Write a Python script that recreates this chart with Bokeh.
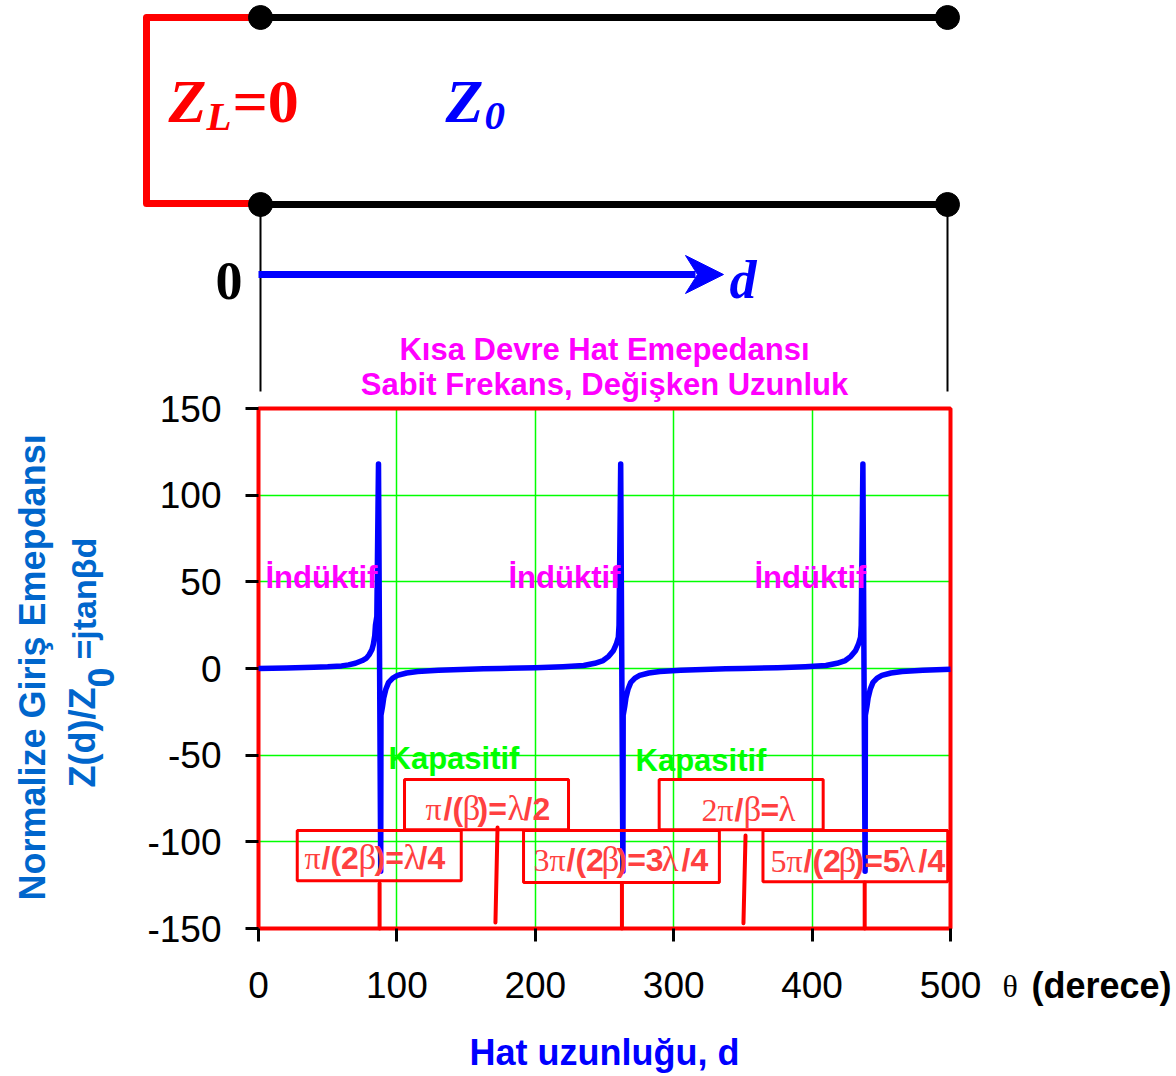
from bokeh.plotting import figure
from bokeh.models import Label, Range1d, FixedTicker, LinearAxis, Grid
from bokeh.embed import file_html
from bokeh.resources import INLINE

# ---- chart values ----
theta_deg = [0, 20, 40, 50, 60, 65, 70, 75, 78, 80, 82, 83, 84, 84.5, 85.5, 86.7, 88.3, 88.5, 89.6, 90.5, 92, 94, 97, 100.4, 107, 115, 130,
             162.5, 175, 200, 220, 235, 243, 249, 253, 256.5, 258.5, 260, 260.5, 261.7, 263.3, 263.5, 264.6, 265.5, 267, 269, 272, 275.4, 282, 290, 305,
             337.5, 350, 375, 395, 410, 418, 424, 428, 431.5, 433.5, 435, 435.5, 436.7, 438.3, 438.5, 439.6, 440.5, 442, 444, 447, 450.4, 457, 465, 480, 500]
z_norm = [0, 0.3, 0.7, 1, 1.5, 2.1, 3, 4.6, 6, 8, 11, 14, 19, 25, 30, 118, -117, -27, -22, -17, -12, -8, -5.5, -4, -2.6, -1.7, -1,
          -0.2, 0, 0.4, 1, 1.7, 3, 4.6, 7, 10.4, 14, 18, 25, 118, -117, -27, -22, -17, -12, -8, -5.5, -4, -2.6, -1.7, -1,
          -0.2, 0, 0.4, 1, 1.7, 3, 4.6, 7, 10.4, 14, 18, 25, 118, -117, -27, -22, -17, -12, -8, -5.5, -4, -2.6, -1.7, -1, -0.4]
x_ticks = [0, 100, 200, 300, 400, 500]
y_ticks = [-150, -100, -50, 0, 50, 100, 150]
box_left = [28, 105.5, 191.5, 289.5, 364.5]
box_right = [146.5, 224, 333, 408, 498]
box_top = [-93.5, -64, -93.5, -64, -93.5]
box_bottom = [-122.5, -93, -123.5, -93, -123]
marker_x0 = [87.5, 262.6, 438, 172.7, 351.9]
marker_x1 = [87.5, 262.6, 438, 171.2, 350.4]
marker_y0 = [-124, -124, -123.5, -91.7, -96.4]
marker_y1 = [-150, -150, -150, -146.5, -147]

SANS, SERIF = "Liberation Sans", "Liberation Serif"
RED, BLUE, MAG, GREEN, LBLUE, TXT = "#FF0000", "#0000FF", "#FF00FF", "#00FF00", "#0066CC", "#FF4040"


# page pixel -> data position (the single frame fills the whole canvas)
def dx(px):
    return (px - 258) * 500 / 692


def dy(py):
    return (668 - py) * 300 / 520


p = figure(width=1176, height=1076, x_range=Range1d(dx(0), dx(1176)), y_range=Range1d(dy(1076), dy(0)),
           output_backend="svg", toolbar_location=None, min_border=0, x_axis_type=None, y_axis_type=None)
p.outline_line_color = None
p.grid.visible = False

xax = LinearAxis(fixed_location=-150, bounds=(0, 500), ticker=FixedTicker(ticks=x_ticks))
yax = LinearAxis(fixed_location=0, bounds=(-150, 150), ticker=FixedTicker(ticks=y_ticks))
yax.major_label_overrides = {t: str(t) for t in y_ticks}
for ax in (xax, yax):
    ax.axis_line_color = None
    ax.major_tick_in = 0
    ax.major_tick_out = 13
    ax.major_tick_line_width = 3
    ax.major_tick_line_color = "black"
    ax.minor_tick_line_color = None
    ax.major_label_text_font = "Liberation Sans"
    ax.major_label_text_font_size = "37px"
    ax.major_label_text_color = "black"
xax.major_label_standoff = 30
yax.major_label_standoff = 24
p.add_layout(xax, "below")
p.add_layout(yax, "left")
p.add_layout(Grid(dimension=0, ticker=xax.ticker, bounds=(0, 500), cross_bounds=(-150, 150),
                  grid_line_color=GREEN, grid_line_width=1.5))
p.add_layout(Grid(dimension=1, ticker=yax.ticker, bounds=(-150, 150), cross_bounds=(0, 500),
                  grid_line_color=GREEN, grid_line_width=1.5))


def hline(px0, py0, px1, py1, color, width):
    p.line([dx(px0), dx(px1)], [dy(py0), dy(py1)], line_color=color, line_width=width)


# ---- schematic ----
p.line([dx(a) for a in (260, 146, 146, 260)], [dy(b) for b in (17, 17, 203, 203)],
       line_color=RED, line_width=7, line_join="round")
for yy in (17, 204):
    hline(260, yy, 947, yy, "black", 7)
    p.scatter([dx(260), dx(947)], [dy(yy), dy(yy)], size=24, color="black")
for xx in (260, 947):
    hline(xx, 204, xx, 391, "black", 2)
hline(258, 274, 695, 274, BLUE, 7)
p.patch([dx(a) for a in (685, 723, 685, 697)], [dy(b) for b in (255, 274, 293, 274)], color=BLUE)

# ---- chart ----
p.quad(left=[0], right=[500], top=[150], bottom=[-150], fill_color=None, line_color=RED, line_width=4)
p.line(theta_deg, z_norm, line_color=BLUE, line_width=5.5, line_join="round")
p.quad(left=box_left, right=box_right, top=box_top, bottom=box_bottom,
       fill_color=None, line_color=RED, line_width=3)
p.segment(marker_x0, marker_y0, marker_x1, marker_y1, line_color=RED, line_width=4, line_cap="round")


def lab(px, py, text, font, size, style, color, align="left", angle=0):
    p.add_layout(Label(x=dx(px), y=dy(py), text=text, text_font=font, text_font_size=f"{size}px",
                       text_font_style=style, text_color=color, text_align=align,
                       text_baseline="middle", angle=angle, angle_units="deg"))


lab(168, 100, "Z", SERIF, 62, "bold italic", RED)
lab(206, 115, "L", SERIF, 41, "bold italic", RED)
lab(232, 100, "=0", SERIF, 62, "bold", RED)
lab(445, 100, "Z", SERIF, 62, "bold italic", BLUE)
lab(484, 115, "0", SERIF, 41, "bold italic", BLUE)
lab(215, 280, "0", SERIF, 54, "bold", "black")
lab(729, 279, "d", SERIF, 54, "bold italic", BLUE)

lab(604, 349, "Kısa Devre Hat Emepedansı", SANS, 31, "bold", MAG, "center")
lab(604, 384, "Sabit Frekans, Değişken Uzunluk", SANS, 31, "bold", MAG, "center")
for xx in (265, 508, 754):
    lab(xx, 577, "İndüktif", SANS, 31, "bold", MAG)
lab(388, 758, "Kapasitif", SANS, 31, "bold", GREEN)
lab(635, 760, "Kapasitif", SANS, 31, "bold", GREEN)
lab(604, 1052, "Hat uzunluğu, d", SANS, 36, "bold", BLUE, "center")
lab(1002, 985, "θ", SERIF, 32, "normal", "black")
lab(1031, 985, "(derece)", SANS, 36, "bold", "black")
lab(32, 900, "Normalize Giriş Emepdansı", SANS, 36, "bold", LBLUE, "left", 90)
lab(82, 787, "Z(d)/Z", SANS, 36, "bold", LBLUE, "left", 90)
lab(100, 687, "0", SANS, 36, "bold", LBLUE, "left", 90)
lab(83, 659, "=jtanβd", SANS, 34, "bold", LBLUE, "left", 90)

segments = [
    (857, [("π", 304, 2), ("/(2", 321, 1), ("β", 358, 0), (")=", 374, 1), ("λ", 403, 0), ("/4", 418, 1)]),
    (808, [("π", 425, 2), ("/(", 443, 1), ("β", 462, 0), (")=", 477, 1), ("λ", 507, 0), ("/2", 523, 1)]),
    (859, [("3π", 533, 2), ("/(2", 566, 1), ("β", 601, 0), (")=3", 616, 1), ("λ", 661, 0), ("/4", 681, 1)]),
    (809, [("2π", 701, 2), ("/", 734, 1), ("β", 743, 0), ("=", 760, 1), ("λ", 778, 0)]),
    (860, [("5π", 770, 2), ("/(2", 803, 1), ("β", 838, 0), (")=5", 853, 1), ("λ", 898, 0), ("/4", 918, 1)]),
]
for py, parts in segments:
    for text, px, kind in parts:
        if kind == 1:
            lab(px, py, text, SANS, 32, "bold", TXT)
        elif kind == 2:
            lab(px, py, text, SERIF, 32, "normal", TXT)
        else:
            lab(px, py, text, SERIF, 35, "normal", TXT)

open("out.html", "w").write(file_html(p, INLINE))
